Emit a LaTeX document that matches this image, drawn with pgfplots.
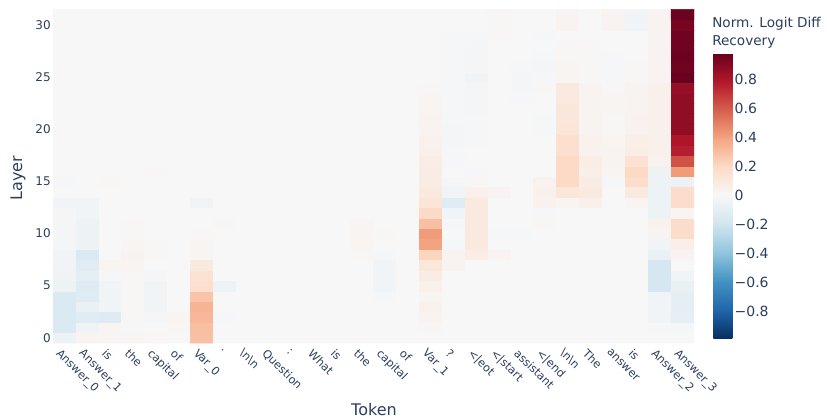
\documentclass[border=0pt]{standalone}
\usepackage{fontspec}
\setmainfont{DejaVu Sans}
\usepackage{pgfplots}
\pgfplotsset{compat=1.18}
\definecolor{txt}{RGB}{42,63,95}
\begin{document}
\begin{tikzpicture}[x=1pt,y=1pt]
\useasboundingbox (0,0) rectangle (620.25,314.25);
\begin{axis}[at={(39.75pt,57pt)}, anchor=south west, scale only axis,
  width=480.75pt, height=250.2pt,
  xmin=-0.5, xmax=27.5, ymin=-0.5, ymax=31.5,
  axis line style={draw=none}, major tick length=0pt,
  xtick={0,...,27},
  xticklabels={Answer\_0,Answer\_1,is,the,capital,of,Var\_0,.,\textbackslash n\textbackslash n,Question,:,What,is,the,capital,of,Var\_1,?,<|eot,<|start,assistant,<|end,\textbackslash n\textbackslash n,The,answer,is,Answer\_2,Answer\_3},
  xticklabel style={rotate=-45, anchor=north west, font=\fontsize{8.5}{10}\selectfont, text=txt, inner sep=1pt, yshift=-3pt},
  ytick={0,5,...,30},
  yticklabel style={font=\fontsize{9}{10}\selectfont, text=txt, inner sep=1.5pt},
  /pgf/number format/assume math mode=true,
  colormap={rdbu}{rgb255=(5,48,97) rgb255=(33,102,172) rgb255=(67,147,195) rgb255=(146,197,222) rgb255=(209,229,240) rgb255=(247,247,247) rgb255=(253,219,199) rgb255=(244,165,130) rgb255=(214,96,77) rgb255=(178,24,43) rgb255=(103,0,31)},
  point meta min=-0.983, point meta max=0.983,
  colorbar,
  colorbar style={at={(parent axis.north east)}, anchor=north west,
    xshift=6pt, yshift=-32.7pt, scale only axis, width=14.25pt, height=213.75pt,
    axis line style={draw=none}, major tick length=0pt,
    ytick={-0.8,-0.6,-0.4,-0.2,0,0.2,0.4,0.6,0.8},
    yticklabels={−0.8,−0.6,−0.4,−0.2,0,0.2,0.4,0.6,0.8},
    yticklabel style={font=\fontsize{10.5}{12}\selectfont, text=txt, inner sep=1.5pt}},
]
\addplot[matrix plot*, mesh/cols=28, mesh/rows=32, point meta=explicit]
 table[header=false, row sep=\\, x expr={mod(\coordindex,28)}, y expr={floor((\coordindex+0.5)/28)}, meta index=0] {
-0.05\\0.03\\0.02\\0.02\\0.01\\0\\0.3\\0\\0\\0\\0\\0\\0\\0\\0\\0\\0\\0\\0\\0\\0\\0\\0\\0\\0\\0\\0\\0\\
-0.15\\-0.04\\0.02\\-0.01\\0\\0.01\\0.3\\0\\0\\0\\0\\0\\0\\0\\0\\0\\0.01\\0\\0\\0\\0\\0\\0\\0\\0\\0\\-0.01\\-0.01\\
-0.15\\-0.12\\-0.13\\0.01\\-0.02\\0.02\\0.33\\-0.01\\0\\0\\0\\0\\0\\0\\0\\0\\0.03\\0\\0\\0\\0\\0\\0\\0\\0\\0\\-0.03\\-0.09\\
-0.15\\-0.07\\-0.03\\0.01\\-0.03\\0\\0.34\\0\\0\\0\\0\\0\\0\\0\\0\\0\\0.04\\0\\0\\0\\0\\0\\0\\0\\0\\0\\-0.03\\-0.1\\
-0.15\\-0.12\\-0.03\\0.01\\-0.03\\0\\0.28\\0\\0\\0\\0\\0\\0\\0\\-0.01\\0\\0.02\\0\\0\\0\\0\\0\\0\\0\\0\\0\\-0.03\\-0.1\\
-0.05\\-0.13\\-0.03\\0.01\\-0.03\\0\\0.17\\-0.05\\0\\0\\0\\0\\0\\0\\-0.03\\0\\0.05\\0\\0\\0\\0\\0\\0\\0\\0\\0\\-0.17\\-0.07\\
-0.04\\-0.1\\-0.01\\0.01\\-0.02\\0\\0.15\\0\\0\\0\\0\\0\\0\\0\\-0.03\\0\\0.08\\0\\0\\0\\0\\0\\0\\0\\0\\0\\-0.17\\-0.03\\
-0.03\\-0.12\\0.02\\0.02\\0\\0\\0.1\\0\\0\\0\\0\\0\\0\\0\\-0.03\\0\\0.12\\0.03\\0\\0\\0\\0\\0\\0\\0\\0\\-0.17\\0\\
-0.03\\-0.15\\0\\0.03\\0.01\\0\\0.02\\0\\0\\0\\0\\0\\0\\0.01\\-0.01\\0\\0.22\\0.03\\0.07\\0.03\\0\\0\\0\\0\\0\\0\\-0.07\\0.03\\
-0.02\\-0.05\\0\\0.02\\0.01\\0\\0.02\\0\\0\\0\\0\\0\\0\\0.02\\0\\0\\0.4\\-0.01\\0.1\\0\\0\\0\\0\\0\\0\\0\\-0.03\\0.06\\
-0.02\\-0.05\\0\\0.01\\0\\0\\0.01\\0\\0\\0\\0\\0\\0\\0.02\\0.01\\0\\0.42\\0\\0.1\\-0.01\\-0.01\\0\\0\\0\\0\\0\\0.03\\0.18\\
-0.02\\-0.05\\0\\0.01\\0\\0\\0\\0.01\\0\\0\\0\\0\\0\\0.02\\0\\0\\0.3\\-0.01\\0.1\\0\\0\\0.01\\0\\0\\0\\0\\0.04\\0.18\\
-0.02\\-0.03\\0\\0\\0\\0\\0\\0\\0\\0\\0\\0\\0\\0\\0\\0\\0.2\\-0.03\\0.1\\0\\0\\-0.01\\0\\0\\0\\0\\-0.05\\0.02\\
-0.03\\-0.03\\0\\0\\0\\0\\-0.03\\0\\0\\0\\0\\0\\0\\0\\0\\0\\0.13\\-0.12\\0.1\\0\\0\\0.04\\0.02\\0.05\\0\\0.02\\-0.05\\0.18\\
0\\0\\0\\0\\0\\0\\0\\0\\0\\0\\0\\0\\0\\0\\0\\0\\0.1\\-0.03\\0.05\\0.03\\0\\0.05\\0.12\\0.1\\0\\0.1\\-0.05\\0.18\\
-0.01\\0\\0.01\\0\\0\\0\\0\\0\\0\\0\\0\\0\\0\\0\\0\\0\\0.08\\-0.02\\0.01\\0\\0\\0.04\\0.2\\0.08\\-0.01\\0.18\\-0.05\\-0.06\\
0\\0\\0\\0\\0.01\\0\\0\\0\\0\\0\\0\\0\\0\\0\\0\\0\\0.08\\0\\-0.01\\0\\0\\0\\0.2\\0.06\\0.02\\0.2\\-0.05\\0.42\\
0\\0\\0\\0\\0\\0\\0\\0\\0\\0\\0\\0\\0\\0\\0\\0\\0.07\\-0.01\\0\\0\\0\\0\\0.2\\0.07\\0.03\\0.15\\0.04\\0.63\\
0\\0\\0\\0\\0\\0\\0\\0\\0\\0\\0\\0\\0\\0\\0\\0\\0.05\\-0.01\\0\\0\\0\\0\\0.17\\0.04\\0.03\\0.07\\0.05\\0.77\\
0\\0\\0\\0\\0\\0\\0\\0\\0\\0\\0\\0\\0\\0\\0\\0\\0.04\\-0.02\\-0.01\\0\\0\\0\\0.17\\0.04\\0.02\\0.06\\0.05\\0.8\\
0\\0\\0\\0\\0\\0\\0\\0\\0\\0\\0\\0\\0\\0\\0\\0\\0.03\\-0.02\\-0.01\\0\\0\\-0.01\\0.13\\0.03\\0.01\\0.04\\0.05\\0.88\\
0\\0\\0\\0\\0\\0\\0\\0\\0\\0\\0\\0\\0\\0\\0\\0\\0.03\\-0.01\\-0.01\\0\\0\\-0.01\\0.11\\0.03\\0.01\\0.04\\0.05\\0.88\\
0\\0\\0\\0\\0\\0\\0\\0\\0\\0\\0\\0\\0\\0\\0\\0\\0.02\\-0.01\\-0.02\\0\\0\\0\\0.11\\0.03\\0.02\\0.03\\0.05\\0.88\\
0\\0\\0\\0\\0\\0\\0\\0\\0\\0\\0\\0\\0\\0\\0\\0\\0.02\\-0.01\\-0.02\\0\\-0.01\\0\\0.1\\0.03\\0.02\\0.03\\0.05\\0.88\\
0\\0\\0\\0\\0\\0\\0\\0\\0\\0\\0\\0\\0\\0\\0\\0\\0.01\\-0.01\\-0.02\\0\\-0.02\\0.01\\0.1\\0.03\\0.01\\0.03\\0.05\\0.86\\
0\\0\\0\\0\\0\\0\\0\\0\\0\\0\\0\\0\\0\\0\\0\\0\\0\\-0.01\\-0.03\\0\\-0.02\\-0.01\\0.02\\0.01\\-0.01\\0.01\\0.03\\0.98\\
0\\0\\0\\0\\0\\0\\0\\0\\0\\0\\0\\0\\0\\0\\0\\0\\0\\-0.01\\-0.02\\0\\-0.01\\-0.02\\0.02\\0.01\\-0.01\\0.01\\0.03\\0.96\\
0\\0\\0\\0\\0\\0\\0\\0\\0\\0\\0\\0\\0\\0\\0\\0\\0\\-0.01\\-0.02\\0\\0\\-0.01\\0.01\\0.01\\-0.01\\0\\0.03\\0.97\\
0\\0\\0\\0\\0\\0\\0\\0\\0\\0\\0\\0\\0\\0\\0\\0\\0\\-0.01\\-0.02\\0\\0\\0\\0.01\\0.01\\0\\0\\0.03\\0.96\\
0\\0\\0\\0\\0\\0\\0\\0\\0\\0\\0\\0\\0\\0\\0\\0\\0\\-0.01\\-0.01\\0.01\\0\\-0.01\\0\\0\\0\\0\\0.03\\0.96\\
0\\0\\0\\0\\0\\0\\0\\0\\0\\0\\0\\0\\0\\0\\0\\0\\0\\0\\0\\0.01\\0\\0\\0.03\\0\\0.03\\-0.03\\0.03\\0.94\\
0\\0\\0\\0\\0\\0\\0\\0\\0\\0\\0\\0\\0\\0\\0\\0\\0\\0\\0\\0.01\\0\\0\\0.03\\0\\0.03\\-0.03\\0.03\\0.97\\
};
\end{axis}
\node[anchor=base west, text=txt, font=\fontsize{10.2}{12}\selectfont, inner sep=0pt] at (534,294) {Norm. Logit Diff};
\node[anchor=base west, text=txt, font=\fontsize{10.2}{12}\selectfont, inner sep=0pt] at (534,280) {Recovery};
\node[text=txt, font=\fontsize{12}{14}\selectfont] at (280.5,6.75) {Token};
\node[text=txt, font=\fontsize{12}{14}\selectfont, rotate=90] at (13.5,180.75) {Layer};
\end{tikzpicture}
\end{document}
